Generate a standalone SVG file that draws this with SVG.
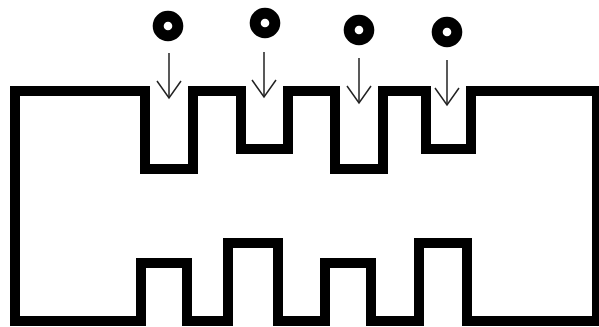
<svg xmlns="http://www.w3.org/2000/svg" width="599" height="327" viewBox="0 0 599 327">
  <defs>
    <style>
      .outline { fill: none; stroke: #000; stroke-width: 10; stroke-linejoin: miter; }
      .ring { fill: none; stroke: #000; stroke-width: 11; }
      .drop { stroke: #222; stroke-width: 1.5; marker-end: url(#vhead); }
    </style>
    <marker id="vhead" markerUnits="userSpaceOnUse" viewBox="-20 -15 22 30" refX="0" refY="0" markerWidth="22" markerHeight="30" orient="auto" overflow="visible">
      <path d="M-17,-12 L0,0 L-17,12" fill="none" stroke="#222" stroke-width="1.5"/>
    </marker>
  </defs>
  <rect width="599" height="327" fill="#fff"/>

  <!-- stepped channel outline -->
  <g id="channel">
    <path class="outline" d="M15,91 H145 V169 H193 V91 H241 V149 H288 V91 H335 V169 H383 V91 H426 V149 H471 V91 H597 V321 H467 V243 H419 V321 H371 V263 H325 V321 H278 V243 H228 V321 H187 V263 H141 V321 H15 Z"/>
  </g>

  <!-- drop sources -->
  <g id="source-1"><circle class="ring" cx="168" cy="26" r="9.8"/></g>
  <g id="source-2"><circle class="ring" cx="265" cy="23" r="9.8"/></g>
  <g id="source-3"><circle class="ring" cx="359" cy="30" r="9.8"/></g>
  <g id="source-4"><circle class="ring" cx="447" cy="32" r="9.8"/></g>

  <!-- falling arrows into the notches -->
  <g id="connectors">
    <line class="drop" x1="169" y1="53" x2="169" y2="98"/>
    <line class="drop" x1="264" y1="52" x2="264" y2="97"/>
    <line class="drop" x1="359" y1="58" x2="359" y2="103"/>
    <line class="drop" x1="447" y1="60" x2="447" y2="105"/>
  </g>
</svg>
